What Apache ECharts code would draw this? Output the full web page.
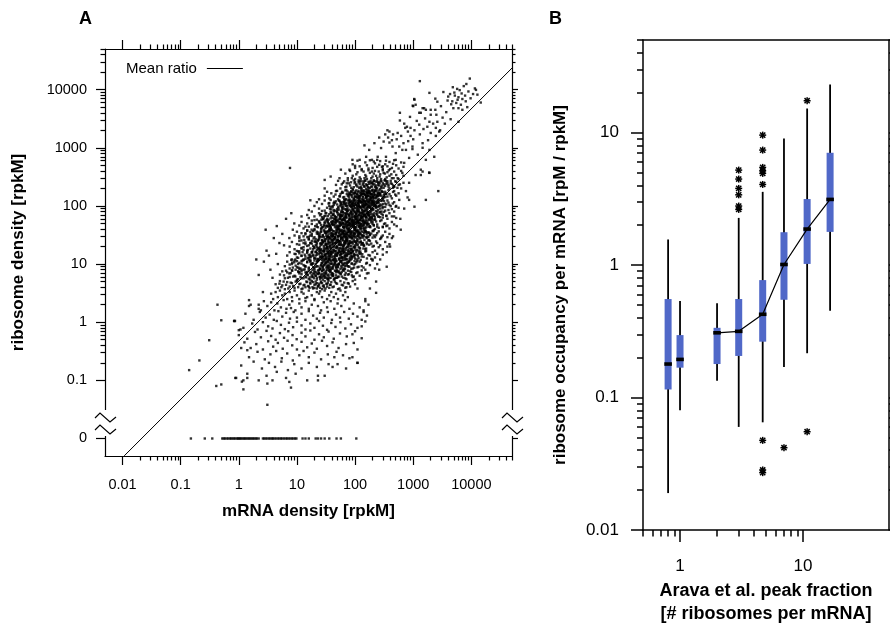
<!DOCTYPE html>
<html><head><meta charset="utf-8">
<script src="https://cdn.jsdelivr.net/npm/echarts@6/dist/echarts.min.js"></script>
<style>html,body{margin:0;padding:0;background:#fff}#c{width:890px;height:625px}</style>
</head><body><div id="c"></div>
<script>
// ================= Panel A data =================
const aXTicks = [0.01, 0.1, 1, 10, 100, 1000, 10000];
const aXTickLabels = ['0.01', '0.1', '1', '10', '100', '1000', '10000'];
const ZERO_AT = 0.01; // position on the broken ribosome axis where density 0 is drawn
const aYTicks = [ZERO_AT, 0.1, 1, 10, 100, 1000, 10000];
const aYTickLabels = ['0', '0.1', '1', '10', '100', '1000', '10000'];
const meanRatio = 0.47;
const meanLineX = [0.0107, 50000];

// [mRNA density, ribosome density]
const pointsUpper = [
[1300,14000],[9400,15500],[8200,12500],[3300,9100],[4800,11000],[5700,10300],[1900,8800],
[4300,8400],[5200,7900],[6000,7400],[7000,6900],[7800,7900],[10700,8400],[12700,8200],
[4700,6300],[5500,5900],[6600,5500],[8000,6300],[6000,4800],[4900,4800],[7000,4500],[8500,5000],[14500,6000],
[1040,6900],[980,5300],[1100,5500],[1540,4800],[1270,4000],[2000,3700],[2400,4500],[1900,2800],
[1050,6700],[1000,5200],[2400,7000],[1450,4800],[1650,4500],[1350,4000],[2000,4500],
[3900,6500],[4500,5600],[5100,8900],[6300,9800],[7400,11500],[8900,9300],[11500,10500],[3000,5200],[3700,4100],[5800,6700],[9700,7100],[6800,8600],[12000,9900],[2600,6200],[4000,7600],
[780,2300],[900,2200],[1050,2000],[1270,2500],[1750,2300],[2450,2200],[2000,1800],[2450,1600],[2800,1900],
[540,1800],[390,1900],[370,1500],[520,1400],[575,1050],[900,1600],[1000,1400],[970,1050],[750,920],[500,810],
[590,4000],[590,2950],[360,2000],[730,2200],[810,1900],[1450,1200],[2500,3700],[2600,2800],[2900,2000],[3500,2600],[4400,3100],[6000,2800],
[620,1600],[820,1300],[700,2600],[450,1700],[1300,1700],[1150,2900],[1600,3200],[880,3400],[680,1200],[1800,1350],[2200,2600],[3200,3300],[1500,2100],[430,1350],[260,1500],[330,1700],
[970,950],[1450,1000],[1900,920],[2300,700],[1200,760],[1650,620],[1350,420],[850,670],[650,920],[440,1050],[390,1230],[310,1280],[280,990],[215,1200],[175,920],[145,1100],[155,700],[195,620],[245,700],[340,700],[500,620],[700,550],[300,480],[120,620],[100,490],[80,420],[90,620],[57,420],[54,300],[38,320],[30,280],[30,200],[24,130],[17,125],[16,85],[12,66],[14,44],[11,30],[8.5,39],[7.4,28],[2.9,39],[7.6,450],
[2700,180],[1050,97],[850,127],[1650,127],[1350,340],[1900,370],[1100,340],[650,370],[540,300],[470,215],[850,250],[750,180],[575,127],[500,97],[470,66],[610,39],[300,44],[1450,390],[1880,375]
];

const coreHigh = [
[91,520],[100,450],[110,600],[120,480],[130,430],[150,560],[160,500],[180,610],[200,450],[220,540],[240,470],[270,590],[300,430],[330,520],[360,480],[390,570],[430,450],[470,610],[510,500],[560,440],[620,560],[680,470],[170,440],[210,580],[260,510],[290,470],[340,600],[400,430],[450,530],[240,620],
[68,360],[75,300],[82,400],[91,330],[100,290],[110,380],[120,310],[130,410],[150,340],[160,290],[180,370],[200,320],[220,400],[240,300],[270,350],[300,410],[330,290],[360,380],[390,330],[430,300],[470,390],[510,340],[560,290],[620,400],[680,330],[105,350],[125,290],[140,390],[155,320],[170,410],[190,300],[210,360],[230,330],[255,390],[280,290],[310,370],[350,310],[380,410],[420,350],[460,300],[145,300],[195,390],[265,320],[325,360],[88,300],
[47,230],[51,270],[56,200],[62,250],[68,210],[75,275],[82,225],[91,195],[100,260],[110,215],[120,240],[130,200],[150,270],[160,230],[180,205],[200,255],[220,215],[240,275],[270,195],[300,245],[330,220],[360,265],[390,200],[430,240],[470,215],[510,260],[560,230],[620,200],[680,250],[85,255],[95,210],[105,235],[115,275],[125,205],[140,250],[145,215],[155,195],[170,260],[175,240],[190,215],[210,270],[215,235],[230,200],[250,250],[260,225],[285,265],[310,205],[345,240],[375,230],[410,270],[450,205],[140,225],[195,245],[235,260],[280,215],[320,275],[165,210],[120,265],[205,190],[72,245],
[30,150],[33,175],[36,135],[39,165],[43,145],[47,180],[51,130],[56,160],[62,140],[68,185],[75,150],[82,128],[91,170],[100,145],[110,160],[120,135],[130,180],[150,155],[160,130],[180,170],[200,140],[220,185],[240,150],[270,165],[300,130],[330,175],[360,145],[390,160],[430,135],[470,180],[510,150],[560,165],[60,175],[65,130],[72,160],[78,140],[86,180],[95,135],[98,165],[105,185],[115,150],[118,130],[125,170],[135,145],[140,185],[145,160],[155,140],[165,175],[170,150],[175,130],[190,160],[195,180],[205,145],[210,170],[230,135],[250,160],[260,185],[285,150],[310,140],[290,175],[88,155],[108,140],[132,160],[162,165],[186,135],[215,155],[255,130],[320,160],[80,170],[140,130]
];

const coreMid = [
[20,100],[22,116],[24,90],[27,108],[30,124],[33,93],[36,112],[39,87],[43,104],[47,120],[51,96],[56,116],[62,88],[68,108],[75,124],[82,100],[91,90],[100,112],[110,96],[120,120],[130,87],[150,104],[160,124],[180,93],[200,112],[220,100],[240,120],[270,90],[300,108],[330,96],[360,124],[390,104],[430,88],[470,116],[510,100],[560,93],[41,95],[45,112],[49,88],[53,124],[58,104],[60,93],[65,116],[70,100],[72,87],[78,112],[80,120],[85,96],[88,108],[95,124],[98,93],[105,104],[108,87],[115,112],[118,100],[125,93],[128,116],[135,104],[140,120],[145,90],[155,108],[165,96],[170,116],[175,100],[190,88],[195,120],[210,104],[230,93],[250,112],[36,100],[57,108],[66,124],[92,104],[112,124],[138,96],[185,108],[205,90],[225,116],[260,100],[290,124],
[15,70],[16,62],[18,80],[20,66],[22,58],[24,75],[27,64],[30,83],[33,60],[36,72],[39,66],[43,80],[47,58],[51,70],[56,62],[62,78],[68,66],[75,83],[82,60],[91,72],[100,64],[110,80],[120,58],[130,75],[150,68],[160,83],[180,62],[200,72],[220,58],[240,78],[270,64],[300,70],[330,83],[360,60],[390,75],[430,66],[470,80],[510,62],[31,68],[32,75],[35,58],[38,78],[41,62],[42,70],[45,83],[48,64],[50,75],[54,60],[58,80],[60,68],[64,58],[66,75],[71,62],[73,80],[78,70],[80,58],[85,78],[88,64],[95,83],[98,68],[104,60],[106,75],[114,66],[116,83],[125,62],[128,70],[135,80],[140,58],[145,72],[155,64],[165,78],[170,60],[175,70],[190,80],[195,66],[55,68],[70,72],[93,58],[118,78],[138,66],[185,58],[210,68],[26,72],[28,60],[250,66],[285,80],[345,68],
[11,46],[12,53],[13,41],[15,50],[16,44],[18,56],[20,40],[22,48],[24,55],[27,43],[30,51],[33,46],[36,40],[39,53],[43,48],[47,56],[51,41],[56,50],[62,44],[68,55],[75,40],[82,48],[91,53],[100,43],[110,51],[120,46],[130,56],[150,41],[160,50],[180,44],[200,53],[220,40],[240,48],[270,55],[300,43],[330,50],[360,46],[390,41],[430,53],[470,48],[23,43],[25,51],[26,40],[29,46],[31,56],[34,44],[35,50],[38,41],[40,48],[42,55],[45,43],[46,51],[49,46],[53,40],[54,53],[58,48],[60,56],[64,43],[66,50],[70,46],[72,53],[78,41],[80,51],[85,44],[88,56],[95,48],[98,41],[105,53],[115,44],[118,50],[125,40],[135,55],[140,46],[145,51],[155,43],[37,46],[44,53],[52,44],[61,51],[74,48],[93,46],[112,55],[165,48],[190,56],[210,46],
[9.1,31],[10,36],[11,28],[12,34],[13,30],[15,38],[16,27],[18,33],[20,29],[22,36],[24,31],[27,26],[30,35],[33,29],[36,38],[39,32],[43,27],[47,34],[51,30],[56,37],[62,28],[68,33],[75,36],[82,29],[91,31],[100,38],[110,27],[120,34],[130,30],[150,36],[160,28],[180,32],[200,37],[220,29],[240,34],[270,27],[300,31],[330,36],[360,29],[390,33],[430,28],[19,37],[21,27],[23,33],[25,29],[26,36],[28,31],[29,38],[31,27],[32,33],[34,30],[35,36],[37,28],[38,34],[41,31],[42,37],[45,29],[46,33],[49,26],[53,35],[55,31],[58,28],[60,36],[64,32],[66,38],[70,30],[72,27],[78,35],[80,31],[85,37],[88,28],[95,33],[98,30],[105,35],[115,32],[125,28],[135,36],[140,31],[145,26],[57,32],[40,29],[52,38],[67,29],[86,34],[107,37],[17,31],[14,34],[170,35],[210,31]
];

const coreLow = [
[7.5,20],[8.2,24],[9.1,18],[10,22],[11,25],[12,19],[13,23],[15,17],[16,21],[18,25],[20,19],[22,23],[24,18],[27,22],[30,25],[33,20],[36,17],[39,24],[43,21],[47,19],[51,25],[56,22],[62,18],[68,24],[75,20],[82,23],[91,17],[100,21],[110,25],[120,19],[130,23],[150,18],[160,22],[180,25],[200,20],[220,17],[240,23],[270,21],[300,18],[330,24],[360,20],[390,22],[17,23],[19,18],[21,21],[23,25],[25,20],[26,17],[28,24],[29,19],[31,22],[34,18],[35,24],[37,21],[38,19],[41,25],[44,17],[46,23],[49,20],[53,24],[58,21],[60,17],[65,23],[70,19],[72,25],[78,22],[85,18],[88,24],[95,20],[105,23],[115,17],[14,22],[32,21],[42,23],[54,19],[64,21],[80,25],[98,19],[125,24],[140,21],
[6.8,14],[7.5,16],[8.2,12],[9.1,15],[10,13],[11,16.5],[12,14],[13,12],[15,15.5],[16,13],[18,16],[20,12.5],[22,14.5],[24,16.5],[27,13],[30,15],[33,12],[36,14],[39,16],[43,13.5],[47,12],[51,15.5],[56,14],[62,16.5],[68,12.5],[75,15],[82,13],[91,16],[100,14.5],[110,12],[120,15],[130,13.5],[150,16.5],[160,12.5],[180,14],[200,16],[220,13],[240,15],[270,12],[300,14.5],[12.5,16],[14,13.5],[17,12],[19,14.5],[21,16],[23,12],[25,13.5],[26,15.5],[28,12.5],[29,16.5],[31,13.5],[32,15],[34,16],[35,12.5],[38,15],[41,12],[45,16.5],[49,14],[53,12.5],[58,15],[60,13],[65,16],[70,14],[72,12],[78,16.5],[85,14],[88,12.5],[95,15],[98,13],[17,14.5],[37,13],[46,15],[55,16.5],[66,13.5],[86,15.5],
[6.2,9.2],[6.8,11],[7.5,8.4],[8.2,10],[9.1,11.5],[10,8.8],[11,10.5],[12,8],[13,9.6],[15,11],[16,8.4],[18,10],[20,11.5],[22,9.2],[24,8],[27,10.5],[30,9.6],[33,11],[36,8.4],[39,10],[43,11.5],[47,8.8],[51,9.6],[56,11],[62,8],[68,10.5],[75,9.2],[82,11.5],[91,8.4],[100,10],[110,8.8],[120,11],[130,9.2],[150,8],[160,10.5],[180,9.6],[200,11.5],[220,8.4],[240,10],[10.5,10],[11.5,8.4],[12.5,11.5],[14,9.2],[17,11],[19,8.8],[21,10],[23,11.5],[25,8.4],[26,9.6],[28,11],[29,8],[31,10.5],[35,9.2],[38,11.5],[41,8.8],[45,10.5],[49,8],[53,10],[58,9.2],[65,8.4],[72,10],[78,11],[34,8.6],[44,9.6],[60,11.5],
[5.1,6.6],[5.6,7.5],[6.2,5.7],[6.8,7.2],[7.5,6],[8.2,7.8],[9.1,6.3],[10,5.4],[11,6.9],[12,7.5],[13,5.7],[15,6.6],[16,7.8],[18,6],[20,7.2],[22,5.4],[24,6.9],[27,7.5],[30,6.3],[33,5.7],[36,7.8],[39,6.6],[43,5.4],[47,7.2],[51,6],[56,6.9],[62,7.8],[68,5.7],[75,6.6],[82,7.5],[91,6],[100,5.4],[110,7.2],[120,6.3],[130,7.8],[150,5.7],[160,6.9],[10.5,7.5],[11.5,6],[14,7.2],[17,5.4],[19,6.9],[21,6.3],[23,7.8],[25,6],[28,5.4],[31,7.2],[35,6.6],[38,7.5],[41,6.3],[45,5.7],[14.5,5.9],[26,6.6],[34,5.5],[49,7.6],
[4.3,4.5],[4.7,3.9],[5.1,5.1],[5.6,4.3],[6.2,3.7],[6.8,4.9],[7.5,4.1],[8.2,4.7],[9.1,3.9],[10,5.1],[11,4.5],[12,3.7],[13,4.3],[15,4.9],[16,4.1],[18,5.1],[20,3.9],[22,4.7],[24,4.3],[27,3.7],[30,5.1],[33,4.5],[36,3.9],[39,4.9],[43,4.1],[47,4.7],[51,3.7],[56,5.1],[62,4.3],[68,3.9],[75,4.7],[82,4.1],[91,5.1],[100,4.5],[110,3.8],[14,4],[17,4.6],[19,3.8],[21,5],[23,4.2],[26,4.8],[29,4],[32,4.6],[35,5.2],[38,4.4],
[3.6,3.1],[3.9,2.5],[4.3,3.3],[4.7,2.7],[5.1,3.5],[5.6,2.9],[6.2,3.1],[6.8,2.5],[7.5,3.3],[8.2,2.7],[9.1,3.5],[10,2.9],[11,2.5],[12,3.3],[13,3.1],[15,2.7],[16,3.5],[18,2.9],[20,2.5],[22,3.3],[24,3.1],[27,2.7],[30,3.5],[33,2.5],[36,2.9],[39,3.3],[43,2.7],[47,3.1],[51,2.5],[56,3.5],[62,2.9],[68,3.3],[75,2.7],[14,2.6],[25,3.4]
];

const coreDenseHigh = [
[59,235],[65,265],[71,215],[78,245],[86,205],[95,275],[105,225],[115,255],[125,215],[140,265],[155,235],[170,205],[190,245],[210,275],[230,225],[255,255],[285,205],[315,235],[345,265],[375,215],[410,245],[450,225],[490,265],[535,205],[590,235],[98,245],[118,205],[135,235],[148,275],[162,225],[178,255],[195,215],[205,235],[218,265],[240,205],[265,245],[295,225],[330,275],[360,245],[145,215],[185,270],[225,210],[275,270],[128,265],[250,230],
[46,157],[49,182],[54,147],[59,168],[65,142],[71,188],[78,152],[86,174],[95,162],[105,142],[115,182],[125,157],[140,168],[155,147],[170,188],[190,157],[210,174],[230,142],[255,168],[285,182],[315,152],[345,162],[375,188],[410,147],[450,174],[490,157],[88,142],[92,188],[100,168],[108,152],[112,174],[120,147],[128,188],[133,162],[137,142],[143,182],[148,157],[152,174],[158,142],[163,168],[168,152],[175,182],[180,162],[185,142],[195,188],[200,152],[215,162],[220,182],[240,157],[248,147],[270,162],[300,174],[82,162],[118,142],[173,167],[205,142],[235,188],[265,152],[160,185],[330,142],
[35,110],[38,127],[41,99],[44,118],[49,106],[54,122],[59,96],[65,114],[71,102],[78,127],[86,110],[95,99],[105,118],[115,106],[125,122],[140,96],[155,114],[170,102],[190,127],[210,110],[230,96],[255,118],[285,102],[315,122],[345,106],[375,114],[410,99],[445,110],[62,106],[68,127],[74,99],[82,118],[88,96],[92,114],[98,106],[102,127],[108,99],[112,110],[118,122],[122,96],[128,114],[133,102],[137,127],[143,110],[148,99],[152,122],[158,106],[163,96],[168,118],[175,110],[180,127],[185,99],[195,114],[200,102],[215,122],[220,99],[240,114],[248,127],[270,106],[300,96],[57,114],[83,102],[97,122],[131,118],[146,106],[178,96],[205,118],[225,106],[262,99],[330,110],
[25,69],[27,82],[29,63],[31,76],[34,67],[37,88],[41,71],[45,65],[49,79],[54,73],[59,85],[65,63],[71,76],[78,69],[86,82],[95,65],[105,73],[115,88],[125,67],[140,79],[155,63],[170,76],[190,85],[210,69],[230,82],[255,65],[285,73],[315,79],[345,67],[375,85],[47,63],[52,85],[57,67],[61,79],[63,71],[67,88],[69,65],[73,82],[76,73],[80,63],[83,76],[88,69],[92,85],[98,79],[101,63],[108,67],[112,82],[118,71],[122,76],[128,63],[133,85],[137,73],[143,69],[148,82],[152,65],[158,76],[163,88],[168,71],[175,67],[180,79],[185,73],[195,63],[200,88],[215,76],[220,65],[240,71],[248,85],[270,79],[300,63],[39,76],[43,85],[56,69],[90,88],[132,65],[160,73]
];

const coreDenseLow = [
[18,49],[20,57],[22,44],[24,52],[26,47],[28,59],[31,42],[34,54],[37,45],[41,51],[45,59],[49,44],[54,49],[59,57],[65,42],[71,52],[78,47],[86,54],[95,45],[105,59],[115,51],[125,42],[140,49],[155,57],[170,44],[190,52],[210,47],[230,54],[255,42],[285,57],[315,49],[345,45],[30,52],[32,45],[33,57],[36,49],[38,42],[40,54],[42,47],[44,59],[47,52],[48,42],[51,54],[53,45],[56,59],[57,47],[61,51],[63,44],[67,57],[69,49],[73,42],[76,54],[80,51],[83,45],[88,57],[92,49],[98,42],[101,52],[108,47],[112,54],[118,44],[122,57],[128,49],[133,45],[137,52],[143,42],[148,54],[158,47],[163,51],[175,57],[180,45],[200,49],[220,59],[240,44],[62,59],[74,45],[85,49],[96,52],[110,57],[150,51],
[14,32.5],[15,37.5],[16,29.5],[17,35.5],[18,30.5],[20,38.5],[22,33.5],[24,28.5],[26,36.5],[28,31.5],[31,34.5],[34,29.5],[37,37.5],[41,32.5],[45,28.5],[49,35.5],[54,30.5],[59,38.5],[65,33.5],[71,29.5],[78,36.5],[86,31.5],[95,34.5],[105,28.5],[115,37.5],[125,32.5],[140,30.5],[155,35.5],[170,29.5],[190,33.5],[210,38.5],[230,31.5],[255,36.5],[285,29.5],[25,33.5],[27,29.5],[30,37.5],[32,30.5],[33,35.5],[35,32.5],[36,28.5],[38,38.5],[40,34.5],[42,30.5],[44,36.5],[47,31.5],[48,38.5],[51,29.5],[53,33.5],[56,36.5],[57,28.5],[61,32.5],[63,37.5],[67,30.5],[69,35.5],[73,33.5],[76,28.5],[80,38.5],[83,32.5],[88,29.5],[92,36.5],[98,33.5],[101,38.5],[108,30.5],[112,35.5],[118,29.5],[122,33.5],[128,36.5],[133,31.5],[137,28.5],[143,34.5],[148,37.5],[158,32.5],[163,29.5],[175,34.5],[180,31.5],[200,28.5],[62,34.5],[74,31.5],[96,30.5],
[11,21.5],[12,25.5],[13,19.5],[14,23.5],[15,20.5],[16,26.5],[17,18.5],[18,22.5],[20,24.5],[22,19.5],[24,26.5],[26,21.5],[28,23.5],[31,18.5],[34,25.5],[37,20.5],[41,22.5],[45,26.5],[49,19.5],[54,24.5],[59,21.5],[65,18.5],[71,25.5],[78,22.5],[86,20.5],[95,26.5],[105,23.5],[115,19.5],[125,24.5],[140,21.5],[155,18.5],[170,25.5],[190,22.5],[210,20.5],[230,24.5],[255,19.5],[19,20.5],[21,24.5],[23,18.5],[25,22.5],[27,25.5],[29,20.5],[30,26.5],[32,22.5],[33,19.5],[35,23.5],[36,26.5],[38,18.5],[40,21.5],[42,25.5],[44,19.5],[47,23.5],[48,20.5],[51,26.5],[53,21.5],[56,18.5],[57,23.5],[61,25.5],[63,20.5],[67,22.5],[69,26.5],[73,19.5],[76,23.5],[80,20.5],[83,24.5],[88,18.5],[92,22.5],[98,24.5],[101,19.5],[108,25.5],[112,21.5],[118,23.5],[122,18.5],[133,22.5],[143,20.5],[158,23.5],[175,21.5],[39,26.5],[52,22.5],[66,24.5],
[9.5,14.8],[10,16.8],[10.5,12.8],[11,15.3],[12,13.8],[13,17.5],[14,12.3],[15,16.3],[16,14.3],[17,13.3],[18,15.8],[20,12.8],[22,17.5],[24,14.8],[26,13.3],[28,16.8],[31,12.3],[34,15.3],[37,13.8],[41,17.5],[45,12.8],[49,14.3],[54,16.3],[59,13.3],[65,15.8],[71,12.3],[78,14.8],[86,17.5],[95,13.8],[105,16.3],[115,12.8],[125,15.3],[140,13.3],[155,16.8],[170,14.3],[190,12.3],[19,13.8],[21,16.3],[23,12.3],[25,15.8],[27,13.8],[29,17.5],[30,14.3],[32,12.8],[33,16.8],[35,14.8],[36,12.3],[38,16.3],[40,13.3],[42,15.8],[44,12.3],[47,16.8],[48,13.8],[51,15.3],[53,17.5],[56,12.8],[57,14.8],[61,16.8],[63,12.8],[67,14.3],[69,17.5],[73,13.8],[76,16.3],[80,12.3],[83,15.3],[88,13.3],[92,16.8],[98,14.3],[101,12.3],[108,17.5],[112,13.8],[118,15.8],[133,14.8],[39,14.8],[62,15.3],
[7.5,9.8],[8,11.8],[8.5,8.7],[9,10.7],[9.5,9.4],[10,11.2],[11,8.3],[12,10.2],[13,11.8],[14,9],[15,10.7],[16,8.7],[17,11.2],[18,9.8],[20,8.3],[22,10.7],[24,11.8],[26,9.4],[28,8.7],[31,10.2],[34,11.2],[37,9],[41,8.3],[45,10.7],[49,9.8],[54,11.8],[59,8.7],[65,10.2],[71,9.4],[78,11.2],[86,8.3],[95,9.8],[105,10.7],[115,9],[125,11.8],[140,8.7],[155,10.2],[19,10.2],[21,9],[23,11.2],[25,8.3],[27,11.8],[29,9.8],[30,11.2],[32,8.7],[33,9.4],[35,10.7],[36,11.8],[38,8.3],[40,10.2],[42,9.4],[44,11.8],[47,8.7],[48,11.2],[51,9],[53,10.2],[56,8.3],[57,11.2],[61,9.8],[63,11.8],[67,8.3],[73,10.7],[80,9],[88,10.2],[98,11.2],
[6,6.4],[6.5,7.7],[7,5.8],[7.8,7],[8.6,6.1],[9.5,8],[10.5,5.5],[11,7.3],[12,6.7],[13,8],[14,6.1],[15,7.3],[16,5.5],[17,7],[18,6.4],[20,7.7],[22,5.8],[24,7],[26,6.1],[28,8],[31,6.7],[34,5.5],[37,7.3],[41,6.4],[45,7.7],[49,5.8],[54,7],[59,6.1],[65,7.7],[71,5.5],[78,6.7],[86,7.3],[95,6.1],[105,7],[19,6.1],[21,7.3],[23,6.7],[25,5.5],[27,7.7],[29,6.4],[30,5.8],[32,7],[33,8],[35,6.1],[36,7.7],[38,5.8],[40,7],[42,6.7],[44,5.5],[47,6.4],[51,7.3],[57,6.7],[63,5.8],[69,7],[88,6.4],
[5,4.6],[5.4,4],[5.9,5],[6.5,4.4],[7.1,3.8],[7.8,4.8],[8.6,4.2],[9.5,5],[10.5,4],[11.5,4.6],[12.5,3.8],[13.5,4.4],[14.5,5],[15.5,4.2],[17,4.8],[18.5,4],[20,4.4],[22,3.8],[24,4.6],[26,5],[28,4.2],[31,3.8],[34,4.8],[37,4.4],[41,4],[45,5],[49,4.6],[54,3.8],[59,4.4],[65,4.8],[71,4],[78,4.6],[16.5,3.9],[19,4.9],[21,4.5],[23,4.1],[25,3.9],[27,4.7],[29,4.3],[33,4.1]
];

const coreCenter = [
[54.7,146],[61.8,169],[69.8,131],[78.9,161],[89.1,122],[101,177],[112,138],[127,153],[143,122],[162,169],[183,146],[206,131],[233,177],[263,153],[297,138],[336,161],[84,153],[95,131],[106,161],[119,146],[135,177],[152,138],[172,122],[194,161],[220,153],[248,169],[74,177],[131,131],[158,153],[178,177],[215,138],[115,122],[98,146],[140,161],[188,138],[240,146],[123,169],[167,146],[200,122],[280,122],
[37.9,96],[42.8,112],[48.4,81],[54.7,101],[61.8,117],[69.8,86],[78.9,106],[89.1,77],[101,91],[112,112],[127,96],[143,81],[162,106],[183,117],[206,86],[233,101],[263,77],[297,91],[58,77],[66,106],[74,91],[84,117],[95,101],[106,81],[119,96],[135,112],[152,86],[172,96],[194,106],[52,91],[63,96],[71,112],[80,86],[87,101],[92,112],[99,77],[104,106],[110,91],[116,101],[123,117],[130,77],[139,101],[148,117],[157,91],[168,77],[190,91],[215,112],[245,96],
[26.3,58],[29.7,67],[33.6,52],[37.9,61],[42.8,72],[48.4,55],[54.7,64],[61.8,49],[69.8,70],[78.9,58],[89.1,52],[101,67],[112,61],[127,49],[143,70],[162,55],[183,64],[206,58],[233,72],[40,49],[45,67],[51,58],[58,70],[66,61],[74,52],[84,72],[95,55],[106,64],[119,52],[135,61],[152,67],[172,49],[194,61],[56,52],[63,58],[71,64],[80,67],[87,61],[92,49],[99,58],[104,72],[110,55],[116,70],[123,58],[130,64],[139,55],[148,52],[157,64],[168,70],[60,66],[77,55],[100,50],
[17.9,39],[20.6,45],[23.3,35],[26.3,41],[29.7,46.5],[33.6,37],[37.9,43],[42.8,33],[48.4,39],[54.7,45],[61.8,35],[69.8,43],[78.9,37],[89.1,46.5],[101,41],[112,33],[127,45],[143,39],[162,35],[183,43],[206,37],[31,35],[35,45],[40,39],[45,46.5],[51,41],[58,33],[66,46.5],[74,39],[84,35],[95,43],[106,37],[119,46.5],[135,41],[152,37],[56,39],[63,43],[71,33],[80,41],[87,35],[92,45],[99,33],[104,43],[110,39],[116,35],[123,41],[28,43],[47,35],[65,37],[76,46.5],[97,39],[140,46.5],
[13.4,26],[15.1,29],[17.1,23],[19.3,27.5],[21.8,21.5],[24.6,30.5],[27.8,24.5],[31.4,21.5],[35.5,29],[40.1,26],[45.3,23],[51.2,30.5],[57.8,27.5],[65.3,21.5],[73.8,26],[83.3,29],[94.1,24.5],[106,21.5],[120,27.5],[136,23],[153,29],[173,26],[23,26],[26,23],[29,29],[33,27.5],[37,23],[42,30.5],[48,24.5],[54,21.5],[61,26],[69,23],[78,30.5],[88,27.5],[100,24.5],[113,30.5],[128,21.5],[30.5,24.5],[38.5,30.5],[44,27.5],[50,26],[59,29],[67,24.5],[75,21.5],[86,23],[97,29],[21,24],[34,22],[46,28.5],[55,25],[71,28],[64,30],
[10.6,16.5],[12,18.5],[13.6,14.5],[15.4,17.5],[17.4,13.5],[19.6,19.5],[22.2,15.5],[25.1,17.5],[28.3,13.5],[32,18.5],[36.2,15.5],[40.9,19.5],[46.2,14.5],[52.2,16.5],[59,18.5],[66.7,13.5],[75.4,17.5],[85.2,15.5],[96.3,19.5],[109,14.5],[123,16.5],[139,18.5],[18.5,16.5],[21,14],[24,19],[27,15],[30,17],[34,13.5],[38,16.5],[43,17.5],[48,15.5],[55,14.5],[62,19.5],[70,15.5],[80,18.5],[90,13.5],[101,17.5],[26,18],[31,14],[36,19.5],[41,16],[45,13.8],[50,18.5],[57,16],[65,17],[72,14.5],[83,16.5],[29,16.5],[33,19],[39,14.5],
[8.3,10.6],[9.4,12],[10.6,8.7],[12,11.3],[13.6,9.3],[15.4,12.6],[17.4,9.9],[19.6,8.7],[22.2,11.3],[25.1,12.6],[28.3,9.3],[32,10.6],[36.2,12],[40.9,8.7],[46.2,11.3],[52.2,9.9],[59,12.6],[66.7,9.3],[75.4,10.6],[85.2,12],[96.3,8.7],[109,11.3],[16,11.8],[18.5,10.3],[21,12.4],[23.5,9.1],[26.5,10.3],[29.5,11.9],[33.5,8.9],[37.5,10.2],[42,11.8],[47,9.5],[53,12.2],[60,10.4],[68,11.9],[77,9.1],[87,10.2],[27.5,8.8],[31,12.3],[35,9.7],[39,11.1],[44,10.1],[50,8.8],[56,11],[63,9.6],
[7.4,6.9],[8.3,7.7],[9.4,6.1],[10.6,7.3],[12,5.7],[13.6,8.1],[15.4,6.5],[17.4,7.3],[19.6,5.7],[22.2,6.9],[25.1,8.1],[28.3,6.1],[32,7.7],[36.2,5.7],[40.9,6.9],[46.2,7.7],[52.2,6.1],[59,7.3],[66.7,6.5],[75.4,7.7],[14.5,7],[16.5,5.9],[18.5,7.9],[21,6.3],[23.5,7.5],[26.5,5.8],[29.5,7.1],[33.5,6.4],[37.5,7.9],[42,6.2],[47,5.8],[53,7.5],[27.5,6.7],[31,5.9],[20,6.7],[24.5,6]
];

const lowerCloud = [
[1.6,2],[2.2,1.7],[2.7,2.3],[3.1,1.9],[3.6,2.2],[4.1,1.6],[4.6,2.1],[5.3,1.8],[5.9,2.4],[6.6,1.7],[7.4,2],[8.3,2.3],[9.4,1.6],[11,2.1],[12,1.8],[14,2.3],[16,1.7],[18,2],[20,2.4],[23,1.9],[26,1.6],[29,2.2],[33,1.8],[38,2.3],[44,1.7],[50,2.1],[58,1.9],[67,2.4],[80,1.7],[95,2.1],[120,1.8],[150,2.3],[140,1.6],[170,2],[7.9,1.75],
[1.3,1.4],[1.8,1.1],[2.3,1.5],[2.9,1.2],[3.4,1.35],[4,1.1],[4.8,1.55],[5.6,1.25],[6.5,1.45],[7.6,1.15],[8.8,1.5],[10,1.2],[12,1.4],[14,1.1],[16,1.55],[19,1.3],[22,1.15],[25,1.45],[29,1.2],[34,1.5],[40,1.1],[47,1.35],[55,1.2],[65,1.5],[78,1.15],[92,1.4],[110,1.25],[140,1.5],[130,1.1],[160,1.3],
[0.83,1.05],[1.2,0.8],[1.7,0.95],[2.1,0.75],[2.6,1],[3.2,0.85],[3.8,0.78],[4.5,1.05],[5.3,0.9],[6.2,0.76],[7.3,0.98],[8.6,0.82],[10,1.02],[12,0.88],[14,0.75],[17,0.95],[20,0.8],[24,1.05],[28,0.87],[33,0.74],[39,0.97],[46,0.83],[56,1],[68,0.78],[85,0.92],[110,0.8],[150,1.03],[130,0.85],
[1,0.6],[1.4,0.52],[1.9,0.68],[2.4,0.55],[3,0.71],[3.6,0.58],[4.3,0.5],[5.1,0.65],[6,0.54],[7.1,0.7],[8.4,0.6],[9.9,0.51],[12,0.66],[14,0.57],[17,0.72],[20,0.5],[24,0.62],[29,0.55],[35,0.69],[43,0.52],[55,0.64],[72,0.57],[100,0.7],[130,0.53],[90,0.62],
[1.25,0.45],[1.6,0.36],[2,0.42],[2.6,0.34],[3.2,0.47],[3.9,0.38],[4.7,0.44],[5.7,0.35],[6.9,0.48],[8.3,0.4],[10,0.34],[12,0.46],[15,0.37],[18,0.43],[22,0.35],[27,0.48],[33,0.39],[41,0.45],[52,0.36],[70,0.42],[110,0.34],[95,0.44],
[1.5,0.25],[2.1,0.31],[2.8,0.23],[3.5,0.28],[4.4,0.32],[5.5,0.24],[6.8,0.29],[8.5,0.22],[11,0.27],[13,0.32],[16,0.25],[20,0.3],[26,0.23],[34,0.28],[48,0.31],[80,0.24],[110,0.2],[62,0.27],
[1.1,0.18],[1.8,0.21],[2.5,0.16],[3.3,0.2],[4.2,0.17],[5.4,0.21],[7,0.15],[9,0.19],[12,0.16],[16,0.2],[22,0.17],[35,0.19],[70,0.16],
[0.87,0.11],[1.4,0.13],[2.2,0.1],[3,0.12],[4.5,0.14],[6.5,0.11],[9.5,0.13],[15,0.1],[30,0.12]
];

const sparsePoints = [
[0.14,0.15],[0.21,0.22],[0.31,0.49],[0.43,2],[0.5,1.08],[1.0,0.73],[1.1,0.36],[1.4,0.33],[1.2,0.1],[1.4,0.11],[0.9,0.11],[3.1,0.038],[0.41,0.08],[0.5,0.085],[3.1,0.088],[3.8,0.1],[7.9,0.075],[7.4,0.094],[23,0.1],[23,0.12],[41,0.17],[50,0.19],[110,0.2],[90,0.25],[44,0.25],[1.13,0.095],[1.2,0.07],[0.84,1.05],
[2,12],[2.7,11],[2.2,6.5],[5,23],[6,21],[4.4,15],[4.7,10],[3.5,8],[3,17],[4,28],[3.8,5.8],[2.6,3.3],[1.5,2.4],[2.2,2],[2.4,1.6],[1.5,1.9],[1.07,0.75],[0.86,1.05],[5.6,33],[4.5,45],[6.5,60],[8,75],[9,50],[3.3,14],
[200,12],[260,8],[230,5],[180,3.8],[150,2.5],[400,20],[450,30],[520,45],[600,60],[350,16],[280,28],[700,90],[800,140],[350,9],[230,3.2],[170,7]
];

// mRNA density of genes with zero ribosome density
const zeroRowMrna = [0.15,0.26,0.35,0.52,0.55,0.58,0.62,0.66,0.7,0.74,0.78,0.82,0.87,0.92,0.97,1.0,1.05,1.1,1.16,1.22,1.28,1.35,1.42,1.5,1.58,1.66,1.75,1.85,1.95,2.05,2.2,2.6,2.75,2.9,3.1,3.3,3.5,3.7,3.9,4.1,4.4,4.7,5,5.3,5.6,6,6.4,6.8,7.2,7.7,8.2,8.7,9.3,9.8,12.5,14,16,21,23,26,30,36,48,57,105];

// ================= Panel B data =================
const bXTicks = [1, 10];
const bXTickLabels = ['1', '10'];
const bXMinor = [0.5,0.6,0.7,0.8,0.9,2,3,4,5,6,7,8,9];
const bYTicks = [0.01, 0.1, 1, 10];
const bYTickLabels = ['0.01', '0.1', '1', '10'];
const peakFraction = [0.8, 1, 2, 3, 4.7, 7, 10.8, 16.6];
const whiskerLow  = [0.019, 0.080, 0.134, 0.060, 0.065, 0.170, 0.216, 0.452];
const quart1      = [0.115, 0.168, 0.179, 0.206, 0.264, 0.547, 1.02, 1.78];
const medianOcc   = [0.179, 0.194, 0.308, 0.316, 0.425, 1.01, 1.87, 3.13];
const quart3      = [0.554, 0.296, 0.336, 0.554, 0.77, 1.77, 3.15, 7.04];
const whiskerHigh = [1.56, 0.535, 0.514, 2.27, 3.57, 9.04, 15.2, 23.1];
const outlierX = [3,3,3,3,3,3, 4.7,4.7,4.7,4.7,4.7,4.7, 4.7,4.7,4.7, 7, 10.8, 10.8];
const outlierY = [5.21,4.46,3.79,3.39,2.79,2.63, 9.57,7.38,5.46,5.15,4.92,4.06, 0.0475,0.0284,0.0271, 0.0418, 17.4, 0.0552];
const medianLineFrom = 2; // medians connected from the 3rd group on

// ================= chart =================
const FONT = '"Liberation Sans", Arial, Helvetica, sans-serif';
function minorTicks(decades) {
  const out = [];
  decades.forEach(d => { for (let m = 2; m <= 9; m++) out.push(+(m * d).toPrecision(3)); });
  return out;
}
const aXMinor = minorTicks([0.01,0.1,1,10,100,1000,10000]);
const aYMinor = minorTicks([0.1,1,10,100,1000,10000]);
const bYMinor = minorTicks([0.01,0.1,1,10]);

function labelFor(ticks, labels, v) {
  for (let i = 0; i < ticks.length; i++) {
    if (Math.abs(Math.log10(v) - Math.log10(ticks[i])) < 1e-6) return labels[i];
  }
  return '';
}
function mkAxis(o) {
  const lw = o.lw || 1.2;
  const ax = {
    type: 'log', logBase: 10, gridIndex: o.grid, position: o.pos, min: o.min, max: o.max,
    splitLine: { show: false }, minorTick: { show: false }, minorSplitLine: { show: false },
    axisLine: { show: !!o.line, onZero: false, lineStyle: { color: '#000', width: lw } },
    axisTick: o.ticks ? { show: true, inside: false, length: o.tickLen, customValues: o.ticks,
      lineStyle: { color: '#000', width: lw } } : { show: false },
    axisLabel: { show: false },
    axisPointer: { show: false }, silent: true, nameMoveOverlap: false
  };
  if (o.labels) {
    ax.axisLabel = { show: true, customValues: o.ticks, margin: o.margin, fontSize: o.fs,
      color: '#000', fontFamily: FONT, formatter: v => labelFor(o.ticks, o.labels, v) };
  }
  if (o.name) {
    ax.name = o.name; ax.nameLocation = 'middle'; ax.nameGap = o.nameGap;
    ax.nameTextStyle = { fontSize: o.nameFs, fontWeight: 'bold', color: '#000', fontFamily: FONT,
      lineHeight: o.nameLh || o.nameFs * 1.3 };
  }
  return ax;
}

const A = { min: 0.005, max: 50000 };
const xAxes = [
  mkAxis({ grid: 0, pos: 'bottom', min: A.min, max: A.max, line: true, ticks: aXTicks, tickLen: 9, labels: aXTickLabels, margin: 21, fs: 14.5,
           name: 'mRNA density [rpkM]', nameGap: 44, nameFs: 17 }),
  mkAxis({ grid: 0, pos: 'bottom', min: A.min, max: A.max, ticks: aXMinor, tickLen: 4.5 }),
  mkAxis({ grid: 0, pos: 'top', min: A.min, max: A.max, line: true, ticks: aXTicks, tickLen: 9 }),
  mkAxis({ grid: 0, pos: 'top', min: A.min, max: A.max, ticks: aXMinor, tickLen: 4.5 }),
  mkAxis({ grid: 1, pos: 'bottom', min: 0.5, max: 50, line: true, lw: 1.5, ticks: bXTicks, tickLen: 12, labels: bXTickLabels, margin: 28, fs: 17,
           name: 'Arava et al. peak fraction\n[# ribosomes per mRNA]', nameGap: 50, nameFs: 18, nameLh: 23 }),
  mkAxis({ grid: 1, pos: 'bottom', min: 0.5, max: 50, lw: 1.5, ticks: bXMinor, tickLen: 6.5 }),
  mkAxis({ grid: 1, pos: 'top', min: 0.5, max: 50, line: true, lw: 1.5 })
];
const yAxes = [
  mkAxis({ grid: 0, pos: 'left', min: A.min, max: A.max, line: true, ticks: aYTicks, tickLen: 9, labels: aYTickLabels, margin: 18, fs: 14.5,
           name: 'ribosome density [rpkM]', nameGap: 76, nameFs: 17 }),
  mkAxis({ grid: 0, pos: 'left', min: A.min, max: A.max, ticks: aYMinor, tickLen: 4.5 }),
  mkAxis({ grid: 0, pos: 'right', min: A.min, max: A.max, line: true, ticks: aYTicks, tickLen: 6 }),
  mkAxis({ grid: 0, pos: 'right', min: A.min, max: A.max, ticks: aYMinor, tickLen: 3.5 }),
  mkAxis({ grid: 1, pos: 'left', min: 0.01, max: 50, line: true, lw: 1.5, ticks: bYTicks, tickLen: 12, labels: bYTickLabels, margin: 24, fs: 17,
           name: 'ribosome occupancy per mRNA [rpM / rpkM]', nameGap: 72, nameFs: 17 }),
  mkAxis({ grid: 1, pos: 'left', min: 0.01, max: 50, lw: 1.5, ticks: bYMinor, tickLen: 6 }),
  mkAxis({ grid: 1, pos: 'right', min: 0.01, max: 50, line: true, lw: 1.5, ticks: bYTicks.concat(bYMinor), tickLen: 4 })
];

const scatterData = [].concat(pointsUpper, coreHigh, coreMid, coreLow, coreDenseHigh, coreDenseLow, coreCenter, lowerCloud, sparsePoints);
const zeroData = zeroRowMrna.map(x => [x, ZERO_AT]);
const meanLine = meanLineX.map(x => [x, meanRatio * x]);
const boxData = peakFraction.map((p, i) => [p, whiskerLow[i], quart1[i], medianOcc[i], quart3[i], whiskerHigh[i]]);
const medianLine = peakFraction.slice(medianLineFrom).map((p, i) => [p, medianOcc[i + medianLineFrom]]);
const outlierData = outlierX.map((x, i) => [x, outlierY[i]]);

function renderBox(params, api) {
  const x = api.value(0);
  const lo = api.coord([x, api.value(1)]);
  const q1 = api.coord([x, api.value(2)]);
  const md = api.coord([x, api.value(3)]);
  const q3 = api.coord([x, api.value(4)]);
  const hi = api.coord([x, api.value(5)]);
  const w = 7;
  return { type: 'group', children: [
    { type: 'line', shape: { x1: lo[0], y1: lo[1], x2: hi[0], y2: hi[1] }, style: { stroke: '#000', lineWidth: 1.8 } },
    { type: 'rect', shape: { x: q1[0] - w / 2, y: q3[1], width: w, height: q1[1] - q3[1] }, style: { fill: '#5068c8' } },
    { type: 'rect', shape: { x: md[0] - 3.8, y: md[1] - 1.8, width: 7.6, height: 3.6 }, style: { fill: '#000' } }
  ] };
}
function renderStar(params, api) {
  const p = api.coord([api.value(0), api.value(1)]);
  const r = 3.5, d = 2.6;
  const st = { stroke: '#000', lineWidth: 1.5 };
  return { type: 'group', children: [
    { type: 'line', shape: { x1: p[0] - r, y1: p[1], x2: p[0] + r, y2: p[1] }, style: st },
    { type: 'line', shape: { x1: p[0], y1: p[1] - r, x2: p[0], y2: p[1] + r }, style: st },
    { type: 'line', shape: { x1: p[0] - d, y1: p[1] - d, x2: p[0] + d, y2: p[1] + d }, style: st },
    { type: 'line', shape: { x1: p[0] - d, y1: p[1] + d, x2: p[0] + d, y2: p[1] - d }, style: st }
  ] };
}

function zig(x0, y0) {
  return { type: 'polyline', z: 100, shape: { points: [[x0 - 10, y0 + 5], [x0 - 5, y0], [x0 + 5, y0 + 9], [x0 + 11, y0 + 4]] },
           style: { stroke: '#000', lineWidth: 1.2, fill: null } };
}

const option = {
  animation: false,
  backgroundColor: '#fff',
  textStyle: { fontFamily: FONT, color: '#000' },
  title: [
    { text: 'A', left: 79, top: 10, padding: 0, textStyle: { fontSize: 18, fontWeight: 'bold', color: '#000', fontFamily: FONT } },
    { text: 'B', left: 549, top: 10, padding: 0, textStyle: { fontSize: 18, fontWeight: 'bold', color: '#000', fontFamily: FONT } }
  ],
  legend: {
    data: [{ name: 'Mean ratio', icon: 'path://M0,0L360,0L360,10L0,10Z' }],
    left: 126, top: 61, padding: 0, align: 'right', selectedMode: false,
    itemWidth: 36, itemHeight: 14, symbolKeepAspect: true,
    itemStyle: { color: '#000', borderWidth: 0 },
    textStyle: { fontSize: 15, color: '#000', fontFamily: FONT, padding: [0, 5, 0, 0] }
  },
  grid: [
    { left: 105, top: 49, width: 407, height: 407, outerBoundsMode: 'none', containLabel: false },
    { left: 643, top: 40, width: 246, height: 490, outerBoundsMode: 'none', containLabel: false }
  ],
  xAxis: xAxes,
  yAxis: yAxes,
  series: [
    { type: 'scatter', name: 'genes', xAxisIndex: 0, yAxisIndex: 0, data: scatterData, symbol: 'rect', symbolSize: 2.4,
      itemStyle: { color: '#000' }, silent: true, z: 2, large: false },
    { type: 'scatter', name: 'zero', xAxisIndex: 0, yAxisIndex: 0, data: zeroData, symbol: 'rect', symbolSize: 2.4,
      itemStyle: { color: '#000' }, silent: true, z: 2 },
    { type: 'line', name: 'Mean ratio', xAxisIndex: 0, yAxisIndex: 0, data: meanLine, symbol: 'none', showSymbol: false,
      lineStyle: { color: '#000', width: 1 }, itemStyle: { color: '#000' }, silent: true, z: 3 },
    { type: 'custom', name: 'boxes', xAxisIndex: 4, yAxisIndex: 4, data: boxData, renderItem: renderBox,
      encode: { x: 0, y: [1, 2, 3, 4, 5] }, silent: true, z: 2 },
    { type: 'line', name: 'median', xAxisIndex: 4, yAxisIndex: 4, data: medianLine, symbol: 'none',
      lineStyle: { color: '#000', width: 1.2 }, silent: true, z: 3 },
    { type: 'custom', name: 'outliers', xAxisIndex: 4, yAxisIndex: 4, data: outlierData, renderItem: renderStar,
      encode: { x: 0, y: 1 }, silent: true, z: 4 }
  ],
  graphic: [
    { type: 'rect', z: 99, shape: { x: 102, y: 410, width: 6, height: 26 }, style: { fill: '#fff' } },
    { type: 'rect', z: 99, shape: { x: 509, y: 410, width: 6, height: 26 }, style: { fill: '#fff' } },
    zig(105, 413), zig(105, 425), zig(512, 413), zig(512, 425)
  ]
};
const chart = echarts.init(document.getElementById('c'), null, { renderer: 'canvas', width: 890, height: 625 });
chart.setOption(option);
</script>
</body></html>
